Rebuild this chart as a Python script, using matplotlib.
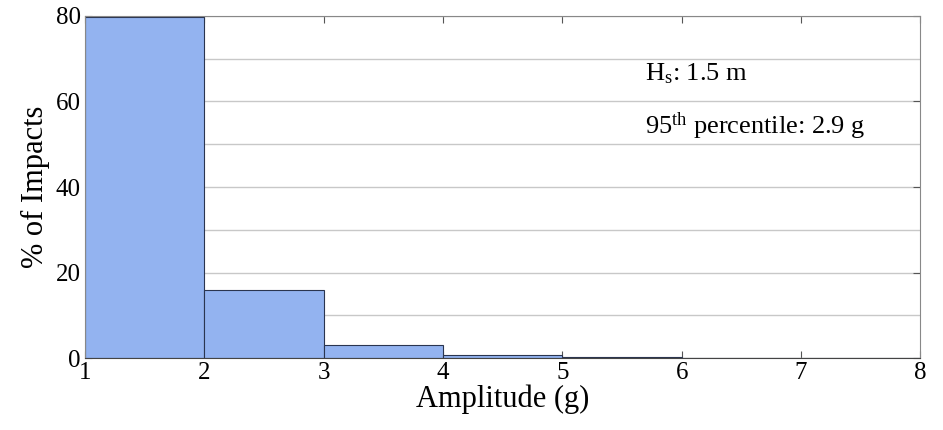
import numpy as np
import matplotlib
matplotlib.use('Agg')
import matplotlib.pyplot as plt
from matplotlib.ticker import MultipleLocator

# histogram of impact amplitudes (bin edges in g, % of impacts per bin)
bin_edges = [1, 2, 3, 4, 5, 6, 7, 8]
pct_impacts = [79.8, 16.0, 3.1, 0.8, 0.2, 0.1, 0.05]
x_ticks = [1, 2, 3, 4, 5, 6, 7, 8]
y_ticks = [0, 20, 40, 60, 80]

plt.rcParams['font.family'] = ['Liberation Serif', 'DejaVu Serif']
plt.rcParams['mathtext.fontset'] = 'custom'
plt.rcParams['mathtext.rm'] = 'Liberation Serif'
plt.rcParams['mathtext.it'] = 'Liberation Serif:italic'

fig = plt.figure(figsize=(9.43, 4.30), dpi=100)
ax = fig.add_axes([0.090, 0.167, 0.886, 0.796])

widths = np.diff(bin_edges)
ax.bar(bin_edges[:-1], pct_impacts, width=widths, align='edge',
       color='#93b3f0', edgecolor='#2a3550', linewidth=0.8, zorder=2)

ax.set_xlim(1, 8)
ax.set_ylim(0, 80)
ax.set_xticks(x_ticks)
ax.set_yticks(y_ticks)
ax.yaxis.set_minor_locator(MultipleLocator(10))
ax.grid(axis='y', which='both', color='#c8c8c8', linewidth=1.0, zorder=0)
ax.set_axisbelow(True)
ax.tick_params(which='major', direction='in', top=True, right=True,
               length=5, labelsize=18, color='#555555', pad=3)
ax.tick_params(which='minor', length=0)
for s in ax.spines.values():
    s.set_color('#888888')
ax.spines['bottom'].set_color('#444444')

ax.set_xlabel('Amplitude (g)', fontsize=22, labelpad=0)
ax.set_ylabel('% of Impacts', fontsize=22, labelpad=4)

ax.text(5.69, 66.5, r'H$_\mathrm{s}$: 1.5 m', fontsize=19, va='center')
ax.text(5.69, 54.3, r'95$^\mathrm{th}$ percentile: 2.9 g', fontsize=19, va='center')

plt.savefig('out.png', dpi=100)
